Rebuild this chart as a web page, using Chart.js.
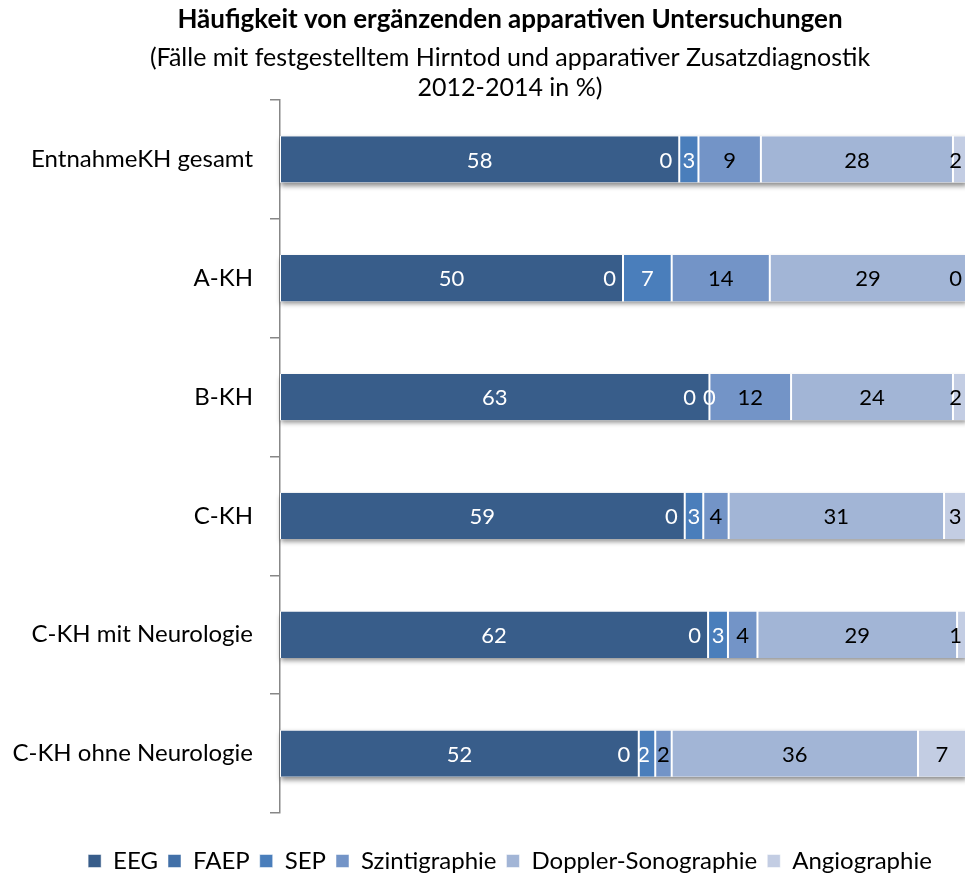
<!DOCTYPE html>
<html lang="de">
<head>
<meta charset="utf-8">
<title>Häufigkeit von ergänzenden apparativen Untersuchungen</title>
<script src="https://cdn.jsdelivr.net/npm/chart.js@4.4.1/dist/chart.umd.min.js"></script>
<style>
  html, body { margin: 0; padding: 0; background: #fff; overflow: hidden; }
  canvas { display: block; }
</style>
</head>
<body>
<canvas id="chart" width="1020" height="873"></canvas>
<script>
// Data (percent)
const categories = ["EntnahmeKH gesamt", "A-KH", "B-KH", "C-KH", "C-KH mit Neurologie", "C-KH ohne Neurologie"];
const seriesNames = ["EEG", "FAEP", "SEP", "Szintigraphie", "Doppler-Sonographie", "Angiographie"];
const eeg     = [58.2, 50.0, 62.6, 59.0, 62.4, 52.3];
const faep    = [0, 0, 0, 0, 0, 0];
const sep     = [2.8, 7.1, 0, 2.7, 2.9, 2.4];
const szinti  = [9.1, 14.3, 11.9, 3.7, 4.3, 2.4];
const doppler = [28.0, 28.6, 23.6, 31.4, 29.1, 35.9];
const angio   = [1.9, 0, 1.9, 3.2, 1.3, 7.0];

const colors = ["#385d8a", "#4270a8", "#4a7ebb", "#7394c7", "#a2b5d6", "#c3cde3"];
const labelColors = ["#fff", "#fff", "#fff", "#000", "#000", "#000"];

Chart.defaults.font.family = "Lato, 'Open Sans', sans-serif";
Chart.defaults.color = "#000";

// soft shadow under each whole bar
const barShadow = {
  id: "barShadow",
  beforeDatasetsDraw(chart) {
    const { ctx, scales: { x } } = chart;
    const bars = chart.getDatasetMeta(0).data;
    ctx.save();
    ctx.shadowColor = "rgba(0,0,0,0.45)";
    ctx.shadowBlur = 5;
    ctx.shadowOffsetX = 1;
    ctx.shadowOffsetY = 3;
    ctx.fillStyle = "#fff";
    bars.forEach((bar, i) => {
      let total = 0;
      chart.data.datasets.forEach(ds => total += ds.data[i]);
      const left = x.getPixelForValue(0);
      const right = x.getPixelForValue(total);
      ctx.fillRect(left, bar.y - bar.height / 2, right - left, bar.height);
    });
    ctx.restore();
  }
};

// value labels, placed right to left so they don't collide
const barLabels = {
  id: "barLabels",
  afterDatasetsDraw(chart) {
    const { ctx, chartArea } = chart;
    const datasets = chart.data.datasets;
    ctx.save();
    ctx.font = "22px Lato";
    ctx.textBaseline = "middle";
    ctx.textAlign = "center";
    chart.data.labels.forEach((_, i) => {
      let limit = chartArea.right - 4;
      for (let d = datasets.length - 1; d >= 0; d--) {
        const bar = chart.getDatasetMeta(d).data[i];
        const text = String(Math.round(datasets[d].data[i]));
        const w = ctx.measureText(text).width;
        let right = (bar.x + bar.base) / 2 + w / 2;
        if (d === 1) right = bar.x - 7;
        right = Math.min(right, limit);
        ctx.fillStyle = labelColors[d];
        ctx.fillText(text, right - w / 2, bar.y + 1);
        limit = right - w - 7;
      }
    });
    ctx.restore();
  }
};

const seriesData = [eeg, faep, sep, szinti, doppler, angio];

new Chart(document.getElementById("chart"), {
  type: "bar",
  data: {
    labels: categories,
    datasets: seriesNames.map((name, k) => ({
      label: name,
      data: seriesData[k],
      backgroundColor: colors[k],
      borderColor: "#fff",
      borderWidth: { top: 0, bottom: 0, left: 1, right: 1 },
      borderSkipped: false,
      barPercentage: 0.39,
      categoryPercentage: 1
    }))
  },
  options: {
    indexAxis: "y",
    responsive: false,
    animation: false,
    layout: { padding: { top: 0, left: 0, right: 0, bottom: -10 } },
    plugins: {
      title: {
        display: true,
        text: "Häufigkeit von ergänzenden apparativen Untersuchungen",
        font: { size: 26, weight: "bold", lineHeight: 1.0 },
        color: "#000",
        padding: { top: 7, bottom: 10 }
      },
      subtitle: {
        display: true,
        text: ["(Fälle mit festgestelltem Hirntod und apparativer Zusatzdiagnostik", "2012-2014 in %)"],
        font: { size: 25, lineHeight: "30px" },
        color: "#000",
        padding: { top: 0, bottom: -3 }
      },
      legend: {
        position: "bottom",
        labels: { boxWidth: 13, boxHeight: 13, padding: 10, font: { size: 24 }, color: "#000" }
      },
      tooltip: { enabled: false }
    },
    scales: {
      x: {
        stacked: true,
        min: 0,
        max: 100,
        ticks: { display: false },
        grid: { display: false },
        border: { display: false },
        afterFit: s => { s.height = 26; }
      },
      y: {
        stacked: true,
        ticks: { font: { size: 24 }, color: "#000", padding: 17 },
        grid: { drawOnChartArea: false, offset: true, tickLength: 10, color: "#878787", lineWidth: 1.5 },
        border: { color: "#878787", width: 1.5 },
        afterFit: s => { s.width = 280; }
      },
      y2: {
        type: "linear",
        position: "right",
        ticks: { display: false },
        grid: { display: false },
        border: { display: false },
        afterFit: s => { s.width = 54; }
      }
    }
  },
  plugins: [barShadow, barLabels]
});
</script>
</body>
</html>
